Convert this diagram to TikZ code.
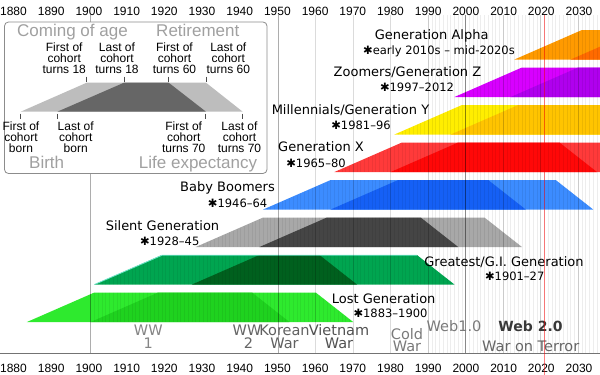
\documentclass[tikz,border=0pt]{standalone}
\usepackage{fontspec}
\setmainfont{Liberation Sans}
\newfontfamily\dvs{DejaVu Sans}
\definecolor{lostL}{HTML}{2EEA2E}
\definecolor{lostD}{HTML}{1FD21F}
\definecolor{grtL}{HTML}{00A550}
\definecolor{grtD}{HTML}{00601E}
\definecolor{silL}{HTML}{A8A8A8}
\definecolor{silD}{HTML}{454545}
\definecolor{boomL}{HTML}{3C8CFF}
\definecolor{boomD}{HTML}{1560F5}
\definecolor{xL}{HTML}{FF3A3A}
\definecolor{xD}{HTML}{FF0808}
\definecolor{milL}{HTML}{FFEE00}
\definecolor{milD}{HTML}{FFC400}
\definecolor{zL}{HTML}{D800FF}
\definecolor{zD}{HTML}{B000EE}
\definecolor{alL}{HTML}{FF9A00}
\definecolor{alD}{HTML}{FF6A00}
\definecolor{legL}{HTML}{BDBDBD}
\definecolor{legD}{HTML}{666666}
\definecolor{leggray}{HTML}{A0A0A0}
\definecolor{edgecyan}{HTML}{70E6CC}
\pgfmathdeclarefunction{yx}{1}{\pgfmathparse{90.7+3.75*(#1-1900)}}
\pgfmathdeclarefunction{lx}{1}{\pgfmathparse{13.5+3.77*(#1-1880)}}
\newcommand\genbar[5]{%
  \fill[#4] ({yx(#1)},#3) -- ({yx(#1+18)},#3-29.5) -- ({yx(#2+60)},#3-29.5) -- ({yx(#2+70)},#3) -- cycle;
  \fill[#5] ({yx(#2)},#3) -- ({yx(#2+18)},#3-29.5) -- ({yx(#1+60)},#3-29.5) -- ({yx(#1+70)},#3) -- cycle;
  \begin{scope}
    \clip ({yx(#1)},#3) -- ({yx(#1+18)},#3-29.5) -- ({yx(#2+60)},#3-29.5) -- ({yx(#2+70)},#3) -- cycle;
    \foreach \yy in {1900,...,1989} \draw[stripe] ({yx(\yy)},#3-30) -- ({yx(\yy)},#3);
  \end{scope}
}
\begin{document}
\begin{tikzpicture}[x=1pt,y=-1pt,
  gname/.style={font=\dvs\fontsize{13}{13}\selectfont, anchor=base, inner sep=0pt},
  gdate/.style={font=\dvs\fontsize{11.5}{11.5}\selectfont, anchor=base, inner sep=0pt},
  yearlab/.style={font=\fontsize{12}{12}\selectfont, anchor=base, inner sep=0pt},
  evt/.style={font=\dvs\fontsize{14.5}{12.5}\selectfont, anchor=south, align=center, inner sep=0pt, text depth=0pt},
  legsmall/.style={font=\fontsize{12}{11}\selectfont, align=center, anchor=south, inner sep=0pt, text depth=0pt},
  legbig/.style={font=\fontsize{17}{17}\selectfont, text=leggray, anchor=base, inner sep=0pt},
  stripe/.style={black, opacity=0.06, line width=0.7pt},
  yearline/.style={black, opacity=0.07, line width=0.6pt},
  decline/.style={black, opacity=0.14, line width=0.6pt},
  majline/.style={black, opacity=0.32, line width=0.7pt},
  legtick/.style={draw=black!70, line width=0.6pt},
]
\path[use as bounding box, fill=white] (0,0) rectangle (600,375);
\begin{scope}
\clip (0,0) rectangle (600,375);
% generation bars
\genbar{1883}{1900}{322}{lostL}{lostD}
\genbar{1901}{1927}{284.5}{grtL}{grtD}
\genbar{1928}{1945}{247}{silL}{silD}
\genbar{1946}{1964}{209.5}{boomL}{boomD}
\genbar{1965}{1980}{172}{xL}{xD}
\genbar{1981}{1996}{134.5}{milL}{milD}
\genbar{1997}{2012}{97}{zL}{zD}
\genbar{2013}{2028}{59.5}{alL}{alD}
\draw[edgecyan, line width=0.8pt] ({yx(1901)},284.5) -- ({yx(1919)},255.3) -- ({yx(1987)},255.3);
% grid
\foreach \y in {1990,...,2035} \draw[yearline] ({yx(\y)},15) -- ({yx(\y)},353);
\foreach \y in {1960,1970,...,2030} \draw[decline] ({yx(\y)},15) -- ({yx(\y)},353);
\foreach \y in {1900,1950,2000} \draw[majline] ({yx(\y)},15) -- ({yx(\y)},353);
\draw[black!55, line width=0.7pt] (0,353) -- (600,353);
\end{scope}
% year labels
\foreach \y in {1880,1890,...,2030} {
  \node[yearlab] (top\y) at ({lx(\y)},15) {\y};
  \node[yearlab] (bot\y) at ({lx(\y)},372.5) {\y};
}
% generation labels
\node[gname] (nAlpha) at (431.7,39) {Generation Alpha};
\node[gdate] (dAlpha) at (439,54.5) {✱early 2010s – mid-2020s};
\node[gname] (nZ) at (407.5,76) {Zoomers/Generation Z};
\node[gdate] (dZ) at (417,91) {✱1997–2012};
\node[gname] (nY) at (350.5,114) {Millennials/Generation Y};
\node[gdate] (dY) at (361,129.5) {✱1981–96};
\node[gname] (nX) at (321,151.7) {Generation X};
\node[gdate] (dX) at (316,167) {✱1965–80};
\node[gname] (nBoom) at (227.5,191.7) {Baby Boomers};
\node[gdate] (dBoom) at (237.6,207) {✱1946–64};
\node[gname] (nSil) at (162.5,230) {Silent Generation};
\node[gdate] (dSil) at (169.7,245) {✱1928–45};
\node[gname] (nGrt) at (504,266.5) {Greatest/G.I. Generation};
\node[gdate] (dGrt) at (514.7,280.5) {✱1901–27};
\node[gname] (nLost) at (383.7,303) {Lost Generation};
\node[gdate] (dLost) at (390.5,317.5) {✱1883–1900};
% events
\node[evt, text=black!48] (ww1) at (148.3,348.5) {WW\\1};
\node[evt, text=black!60] (ww2) at (247,348.5) {WW\\\hspace*{3pt}2};
\node[evt, text=black!62] (kor) at (284.5,348.5) {Korean\\War};
\node[evt, text=black!68] (viet) at (339,348.5) {Vietnam\\War};
\node[evt, text=black!52] (cold) at (407,351.7) {Cold\\War};
\node[evt, text=black!52, anchor=base] (web1) at (454,331.7) {Web1.0};
\node[evt, text=black!78, anchor=base, font=\dvs\bfseries\fontsize{14}{14}\selectfont] (web2) at (530.5,331.7) {Web 2.0};
\node[evt, text=black!60, anchor=base] (terror) at (530.7,351.7) {War on Terror};
% legend
\draw[fill=white, draw=black!45, line width=0.8pt, rounded corners=4pt] (4.5,22) rectangle (267,173.5);
\fill[legL] (20.7,111.7) -- (86.7,82.7) -- (206,82.7) -- (242.7,111.7) -- cycle;
\fill[legD] (57.3,111.7) -- (124,82.7) -- (168.7,82.7) -- (206,111.7) -- cycle;
\foreach \t in {86.7,124,168.7,206} \draw[legtick] (\t,76.5) -- (\t,81.5);
\foreach \t in {20.7,57.3,205.5,242.7} \draw[legtick] (\t,113.5) -- (\t,118.5);
\node[legbig] (lcome) at (72.5,36.7) {Coming of age};
\node[legbig] (lret) at (197.8,36.7) {Retirement};
\node[legbig] (lbirth) at (46.7,168.3) {Birth};
\node[legbig] (llife) at (198,168.3) {Life expectancy};
\node[legsmall] (lf18) at (64.2,73.3) {First of\\cohort\\turns 18};
\node[legsmall] (ll18) at (117,73.3) {Last of\\cohort\\turns 18};
\node[legsmall] (lf60) at (174.5,73.3) {First of\\cohort\\turns 60};
\node[legsmall] (ll60) at (228.3,73.3) {Last of\\cohort\\turns 60};
\node[legsmall] (lfb) at (21,152.7) {First of\\cohort\\born};
\node[legsmall] (llb) at (75.7,152.7) {Last of\\cohort\\born};
\node[legsmall] (lf70) at (183.7,152.7) {First of\\cohort\\turns 70};
\node[legsmall] (ll70) at (239.5,152.7) {Last of\\cohort\\turns 70};
% current year
\coordinate (nowTop) at ({yx(2021)},15);
\coordinate (nowBot) at ({yx(2021)},375);
\draw[red, opacity=0.5, line width=1.5pt] (nowTop) -- (nowBot);
\end{tikzpicture}
\end{document}
